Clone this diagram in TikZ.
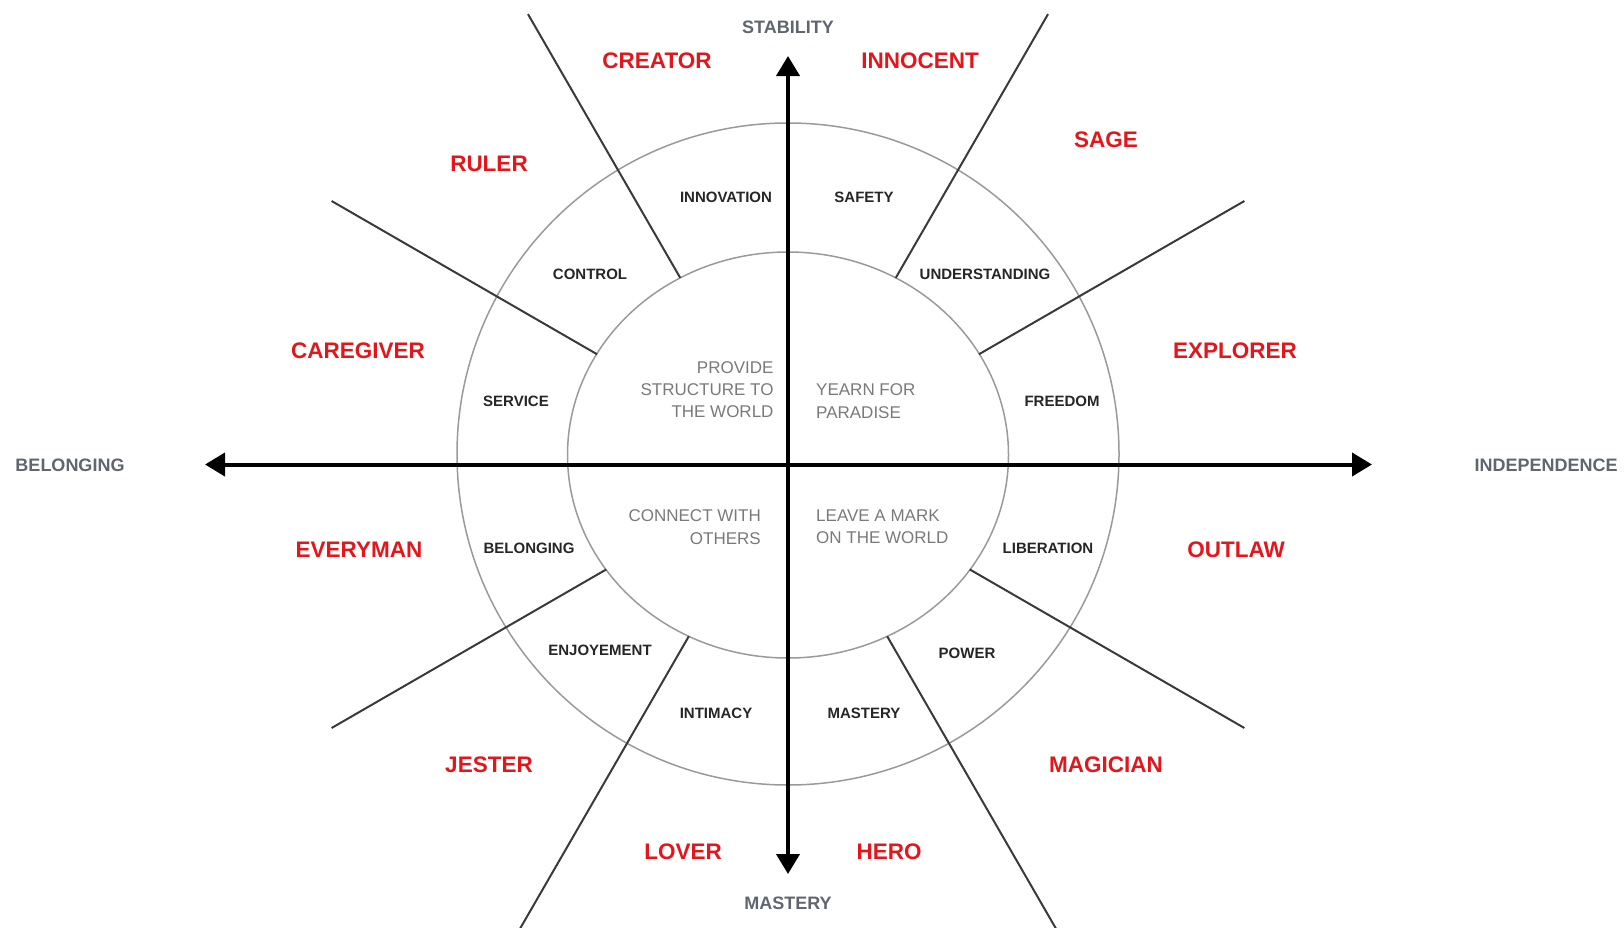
\documentclass[tikz,border=0pt]{standalone}
\usepackage{fontspec}
\setmainfont{Liberation Sans}
\usetikzlibrary{arrows.meta,calc}
\definecolor{archred}{HTML}{E3161B}
\definecolor{axislbl}{HTML}{5F6670}
\definecolor{innertxt}{HTML}{7A7A7A}
\definecolor{ringcol}{HTML}{9A9A9A}
\definecolor{spokecol}{HTML}{3A3A3A}
\tikzset{
  archlabel/.style={text=archred, font=\fontsize{22.5}{27}\selectfont\bfseries, inner sep=0pt},
  valuelabel/.style={text=black!85, font=\fontsize{15}{18}\selectfont\bfseries, inner sep=0pt},
  axislabel/.style={text=axislbl, font=\fontsize{18}{21}\selectfont\bfseries, inner sep=0pt},
  quadtext/.style={text=innertxt, font=\fontsize{17}{22.3}\selectfont, inner sep=0pt},
  ringline/.style={draw=ringcol, line width=1.5pt},
  spokeline/.style={draw=spokecol, line width=2pt},
  axisline/.style={line width=4pt, {Triangle[length=20pt,width=23pt]}-{Triangle[length=20pt,width=23pt]}},
}
\begin{document}
\begin{tikzpicture}[x=1pt,y=-1pt]
\useasboundingbox (0,0) rectangle (1624,927);
\fill[white] (0,0) rectangle (1624,927);
\clip (0,0) rectangle (1624,927);

% rings
\coordinate (RC) at (788,454);
\coordinate (IC) at (788,455);
\draw[ringline] (RC) circle[radius=331pt];
\draw[ringline] (IC) ellipse[x radius=220.5pt, y radius=203pt];

% spokes
\coordinate (O) at (788,464.5);
\path (O) +(240:215.4) coordinate (s1a) +(240:520) coordinate (s1b);
\path (O) +(300:215.4) coordinate (s2a) +(300:520) coordinate (s2b);
\path (O) +(330:220.5) coordinate (s3a) +(330:527) coordinate (s3b);
\path (O) +(30:209.8) coordinate (s4a) +(30:527) coordinate (s4b);
\path (O) +(60:198.3) coordinate (s5a) +(60:560) coordinate (s5b);
\path (O) +(120:198.3) coordinate (s6a) +(120:560) coordinate (s6b);
\path (O) +(150:209.8) coordinate (s7a) +(150:527) coordinate (s7b);
\path (O) +(210:220.5) coordinate (s8a) +(210:527) coordinate (s8b);
\foreach \i in {1,...,8} {\draw[spokeline] (s\i a) -- (s\i b);}

% axes
\coordinate (W) at (205,464.5);
\coordinate (E) at (1372,464.5);
\coordinate (N) at (788,56);
\coordinate (S) at (788,874);
\draw[axisline] (W) -- (E);
\draw[axisline] (N) -- (S);

% axis labels
\node[axislabel] (stab) at (788,27) {STABILITY};
\node[axislabel] (mast) at (788,903) {MASTERY};
\node[axislabel] (belg) at (70,465) {BELONGING};
\node[axislabel] (indep) at (1546,465) {INDEPENDENCE};

% archetypes
\node[archlabel] (creator) at (657,61) {CREATOR};
\node[archlabel] (innocent) at (920,61) {INNOCENT};
\node[archlabel] (ruler) at (489,164) {RULER};
\node[archlabel] (sage) at (1106,140) {SAGE};
\node[archlabel] (caregiver) at (358,351) {CAREGIVER};
\node[archlabel] (explorer) at (1235,351) {EXPLORER};
\node[archlabel] (everyman) at (359,550) {EVERYMAN};
\node[archlabel] (outlaw) at (1236,550) {OUTLAW};
\node[archlabel] (jester) at (489,765) {JESTER};
\node[archlabel] (magician) at (1106,765) {MAGICIAN};
\node[archlabel] (lover) at (683,852) {LOVER};
\node[archlabel] (hero) at (889,852) {HERO};

% values
\node[valuelabel] (innov) at (726,197) {INNOVATION};
\node[valuelabel] (safety) at (864,197) {SAFETY};
\node[valuelabel] (control) at (590,274.5) {CONTROL};
\node[valuelabel] (underst) at (985,274.5) {UNDERSTANDING};
\node[valuelabel] (service) at (516,401) {SERVICE};
\node[valuelabel] (freedom) at (1062,401) {FREEDOM};
\node[valuelabel] (belonging) at (529,548) {BELONGING};
\node[valuelabel] (liber) at (1048,548) {LIBERATION};
\node[valuelabel] (enjoy) at (600,650) {ENJOYEMENT};
\node[valuelabel] (power) at (967,653.5) {POWER};
\node[valuelabel] (intim) at (716,713.6) {INTIMACY};
\node[valuelabel] (mastery) at (864,713.6) {MASTERY};

% quadrant texts
\node[quadtext, anchor=east, align=right] (q1) at (773.7,389.5) {PROVIDE\\STRUCTURE TO\\THE WORLD};
\node[quadtext, anchor=west, align=left] (q2) at (816,401) {YEARN FOR\\PARADISE};
\node[quadtext, anchor=east, align=right] (q3) at (761,527) {CONNECT WITH\\OTHERS};
\node[quadtext, anchor=west, align=left] (q4) at (816,527) {LEAVE A MARK\\ON THE WORLD};
\end{tikzpicture}
\end{document}
